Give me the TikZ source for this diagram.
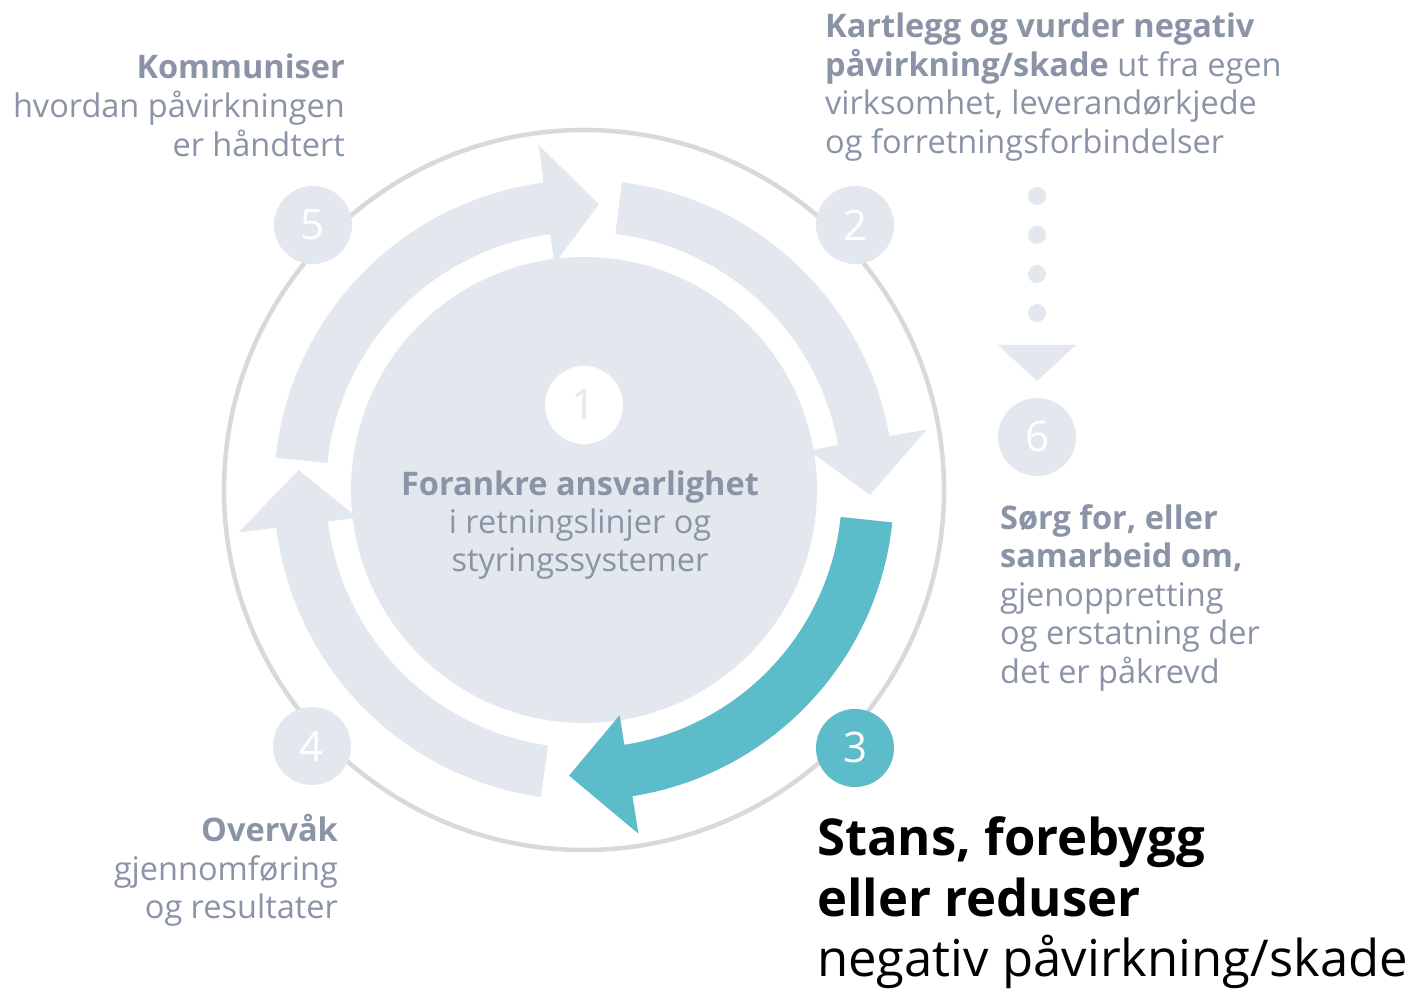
\documentclass[tikz,border=0pt]{standalone}
\usepackage{fontspec}
\setmainfont{Open Sans}
\definecolor{txtgray}{HTML}{8A94A6}
\definecolor{lightfill}{HTML}{E3E8EF}
\definecolor{tealc}{HTML}{5DBCCA}
\definecolor{ringgray}{HTML}{D9D9D9}
\newcommand{\RingArrow}[4]{%
  \fill[#4] ([shift={(584,502)}]#1:310) arc[start angle=#1, end angle=#2, radius=310]
    -- ([shift={(584,502)}]#2:348) -- ([shift={(584,502)}]#3:286) -- ([shift={(584,502)}]#2:228)
    -- ([shift={(584,502)}]#2:258) arc[start angle=#2, end angle=#1, radius=258] -- cycle;}
\tikzset{
  badge/.style={circle, fill=lightfill, minimum size=78, inner sep=0, text=white, font=\fontsize{42}{42}\selectfont},
  gtext/.style={text=txtgray, font=\fontsize{32.5}{39}\selectfont, inner sep=0},
  btext/.style={text=black, font=\fontsize{50.8}{60}\selectfont, inner sep=0},
  dotc/.style={circle, fill=lightfill, minimum size=18, inner sep=0}
}
\begin{document}
\begin{tikzpicture}[x=1pt,y=1pt]
\useasboundingbox (0,0) rectangle (1414,992);
\fill[white] (0,0) rectangle (1414,992);
% ring
\coordinate (C) at (584,502);
\draw[ringgray, line width=4.5] (C) circle[radius=360];
% central disc
\fill[lightfill] (C) circle[radius=233];
% arrows
\RingArrow{83}{10}{-1}{lightfill}
\RingArrow{-6}{-81}{-93}{tealc}
\RingArrow{-98}{-173}{-184}{lightfill}
\RingArrow{174}{97.5}{87}{lightfill}
% badges
\node[badge] (b2) at (855,767) {2};
\node[badge] (b5) at (313,767) {5};
\node[badge, fill=tealc] (b3) at (855,244) {3};
\node[badge] (b4) at (312,246) {4};
\node[badge] (b6) at (1037,555) {6};
\node[badge, fill=white, text=lightfill] (b1) at (584,587) {1};
% dots and triangle
\node[dotc] (d1) at (1037,796) {};
\node[dotc] (d2) at (1037,757) {};
\node[dotc] (d3) at (1037,718) {};
\node[dotc] (d4) at (1037,679) {};
\fill[lightfill] (998,647) -- (1076,647) -- (1037,611) -- cycle;
% text: step 5
\node[gtext, anchor=base east] (k1) at (345,913) {\bfseries Kommuniser};
\node[gtext, anchor=base east] (k2) at (345,874) {hvordan påvirkningen};
\node[gtext, anchor=base east] (k3) at (345,835) {er håndtert};
% step 2
\node[gtext, anchor=base west] (t1) at (825,954) {\bfseries Kartlegg og vurder negativ};
\node[gtext, anchor=base west] (t2) at (825,915) {\textbf{påvirkning/skade} ut fra egen};
\node[gtext, anchor=base west] (t3) at (825,877) {virksomhet, leverandørkjede};
\node[gtext, anchor=base west] (t4) at (825,838) {og forretningsforbindelser};
% step 6
\node[gtext, anchor=base west] (s1) at (1000,462) {\bfseries Sørg for, eller};
\node[gtext, anchor=base west] (s2) at (1000,424) {\bfseries samarbeid om,};
\node[gtext, anchor=base west] (s3) at (1000,385) {gjenoppretting};
\node[gtext, anchor=base west] (s4) at (1000,347) {og erstatning der};
\node[gtext, anchor=base west] (s5) at (1000,308) {det er påkrevd};
% step 4
\node[gtext, anchor=base east] (o1) at (338,150) {\bfseries Overvåk};
\node[gtext, anchor=base east] (o2) at (338,111) {gjennomføring};
\node[gtext, anchor=base east] (o3) at (338,73) {og resultater};
% step 1
\node[gtext, anchor=base] (f1) at (580,496) {\bfseries Forankre ansvarlighet};
\node[gtext, anchor=base] (f2) at (580,458) {i retningslinjer og};
\node[gtext, anchor=base] (f3) at (580,420) {styringssystemer};
% step 3
\node[btext, anchor=base west] (h1) at (817,136) {\bfseries Stans, forebygg};
\node[btext, anchor=base west] (h2) at (817,75) {\bfseries eller reduser};
\node[btext, anchor=base west] (h3) at (817,15) {negativ påvirkning/skade};
\end{tikzpicture}
\end{document}
